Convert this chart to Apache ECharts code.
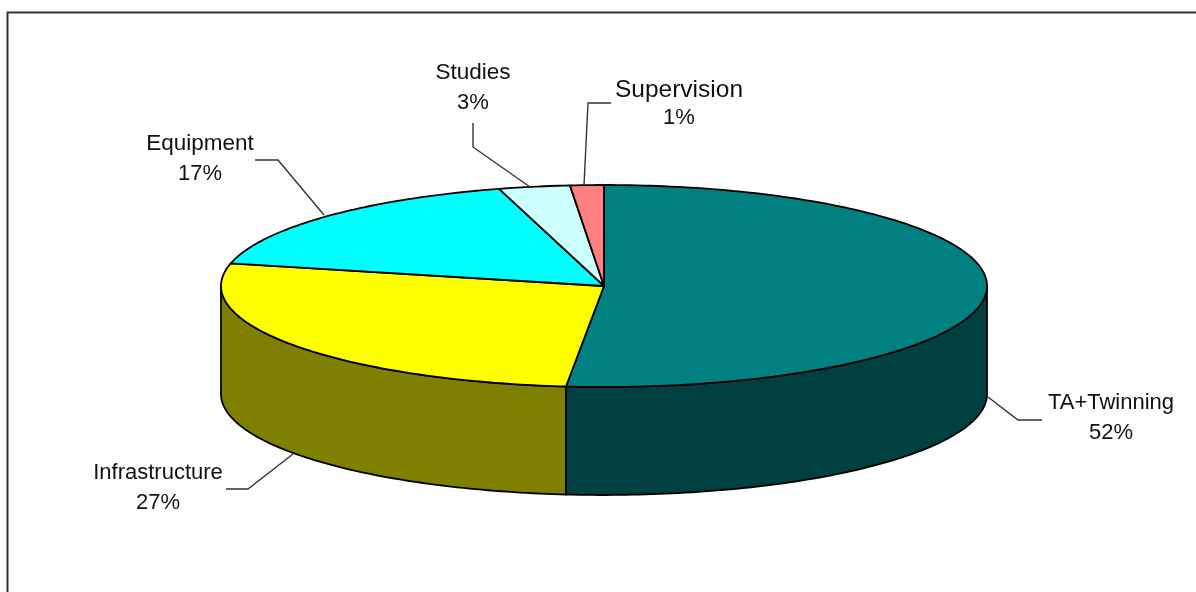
<!DOCTYPE html>
<html>
<head>
<meta charset="utf-8">
<style>html,body{margin:0;padding:0;background:#fff}#chart{width:1196px;height:592px}</style>
<script src="https://cdn.jsdelivr.net/npm/echarts@6/dist/echarts.min.js"></script>
</head>
<body>
<div id="chart"></div>
<script>
// Budget shares, clockwise from the top of the disc
const categories = ['TA+Twinning', 'Infrastructure', 'Equipment', 'Studies', 'Supervision'];
const shares = [52, 27, 17, 3, 1];

const topColors = ['#008080', '#FFFF00', '#00FFFF', '#CCFFFF', '#FF8080'];
const wallColors = ['#004040', '#808000', '#008080', '#666680', '#803F3F'];

// Label placement: centre x, first-line y, second-line y
const labelPlaces = [[1111, 403, 433], [158, 473, 503], [200, 144, 174], [473, 73, 103], [679, 90, 118]];
const nameFontSizes = [22, 22, 22.5, 22.5, 24.5];
const leaderPaths = [
  [[1042, 420], [1018, 420], [988, 397]],
  [[226, 489], [248, 489], [293, 454]],
  [[255, 160], [278, 160], [324, 215]],
  [[473, 123], [473, 147], [530, 187]],
  [[611, 103], [588, 103], [584, 185]]
];

// Disc projection; interior seams lag slightly to mimic the tilted view
const disc = { cx: 604, cy: 286, rx: 383, ry: 101, depth: 108, seamLagDeg: 1.5 };

function rimPoint(deg, drop) {
  const a = deg * Math.PI / 180;
  return [disc.cx + disc.rx * Math.sin(a), disc.cy - disc.ry * Math.cos(a) + drop];
}

function arcPoints(from, to, drop) {
  const pts = [];
  const steps = Math.max(2, Math.ceil(Math.abs(to - from)));
  for (let i = 0; i <= steps; i++) pts.push(rimPoint(from + (to - from) * i / steps, drop));
  return pts;
}

const total = shares.reduce((a, b) => a + b, 0);
let running = 0;
const rows = shares.map((v) => {
  const row = [v, running];
  running += v;
  return row;
});

function seamAngle(cumulative) {
  const deg = cumulative / total * 360;
  return deg > 0 && deg < 360 ? deg - disc.seamLagDeg : deg;
}

const edge = { stroke: '#000', lineWidth: 1.8, lineJoin: 'round' };

function renderSlice(params, api) {
  const i = params.dataIndex;
  const from = seamAngle(api.value(1));
  const to = seamAngle(api.value(1) + api.value(0));
  const children = [];

  // Side wall: only the part facing the viewer (90 to 270 degrees)
  const wallFrom = Math.max(from, 90);
  const wallTo = Math.min(to, 270);
  if (wallTo > wallFrom) {
    const points = arcPoints(wallFrom, wallTo, 0).concat(arcPoints(wallTo, wallFrom, disc.depth));
    children.push({
      type: 'polygon',
      shape: { points },
      style: Object.assign({ fill: wallColors[i] }, edge)
    });
  }

  // Top face
  children.push({
    type: 'polygon',
    shape: { points: [[disc.cx, disc.cy]].concat(arcPoints(from, to, 0)) },
    style: Object.assign({ fill: topColors[i] }, edge)
  });

  // Leader line
  children.push({
    type: 'polyline',
    shape: { points: leaderPaths[i] },
    style: { fill: 'none', stroke: '#333', lineWidth: 1.4 }
  });

  // Two-line label: category and share
  const place = labelPlaces[i];
  children.push({
    type: 'text',
    style: {
      text: categories[i], x: place[0], y: place[1], align: 'center', verticalAlign: 'middle',
      fontFamily: '"Liberation Sans", Arial, sans-serif', fontSize: nameFontSizes[i], fill: '#111'
    }
  });
  children.push({
    type: 'text',
    style: {
      text: api.value(0) + '%', x: place[0], y: place[2], align: 'center', verticalAlign: 'middle',
      fontFamily: '"Liberation Sans", Arial, sans-serif', fontSize: 22, fill: '#111'
    }
  });

  return { type: 'group', children };
}

const chart = echarts.init(document.getElementById('chart'), null, { renderer: 'canvas' });
chart.setOption({
  animation: false,
  backgroundColor: '#fff',
  graphic: [{
    type: 'polyline',
    shape: { points: [[7.5, 600], [7.5, 12.5], [1200, 12.5]] },
    style: { fill: 'none', stroke: '#333', lineWidth: 2 },
    silent: true
  }],
  series: [{
    type: 'custom',
    coordinateSystem: 'none',
    renderItem: renderSlice,
    silent: true,
    data: rows
  }]
});
</script>
</body>
</html>
